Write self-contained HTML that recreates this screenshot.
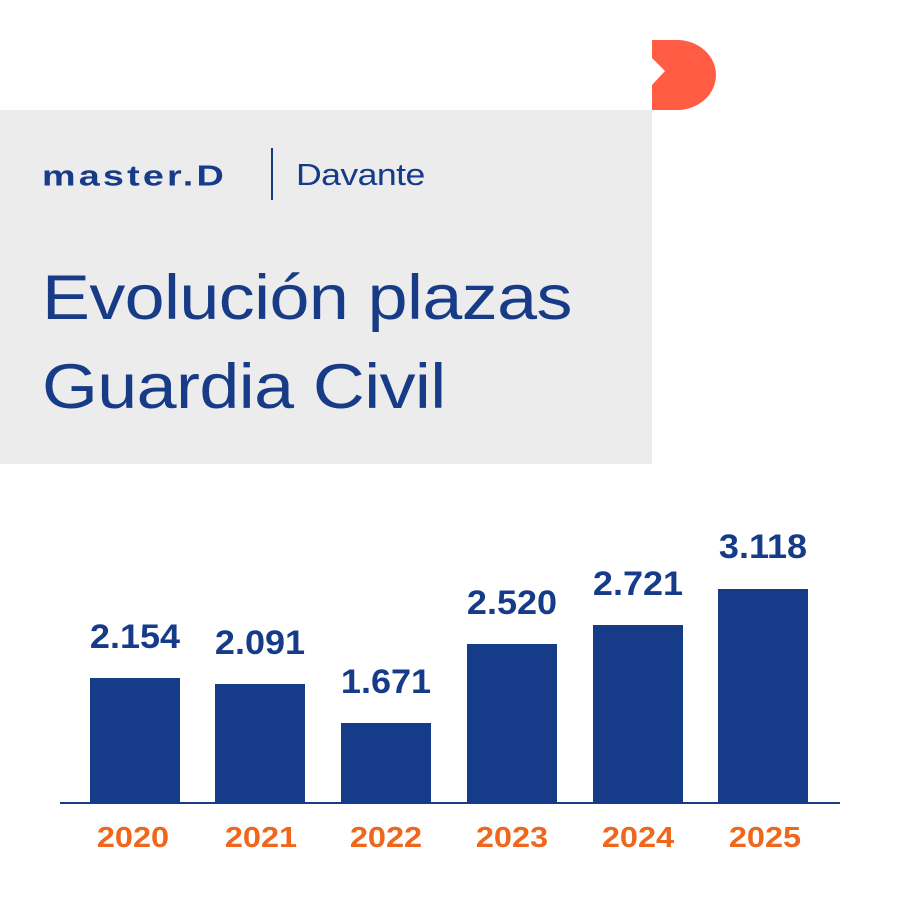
<!DOCTYPE html>
<html><head><meta charset="utf-8"><style>
body{margin:0;width:901px;height:901px;background:#fff;position:relative;overflow:hidden;font-family:"Liberation Sans",sans-serif}
.box{position:absolute;left:0;top:110px;width:652px;height:354px;background:#ececec}
.t{position:absolute;left:42px;color:#183b87;font-size:63px;white-space:nowrap;letter-spacing:-0.5px;transform:scaleX(1.14);transform-origin:0 0}
.bar{position:absolute;background:#163b88;width:90px}
.v{position:absolute;width:130px;text-align:center;color:#163b88;font-weight:bold;font-size:34px;transform:scaleX(1.06)}
.y{position:absolute;top:822px;width:130px;text-align:center;color:#f0661b;font-weight:bold;font-size:29px;transform:scaleX(1.12)}
</style></head><body>
<svg style="position:absolute;left:652px;top:40px" width="66" height="72"><path d="M0 0 H25 A39 35 0 0 1 25 70 H0 V45 L13 31 L0 18 Z" fill="#ff5c43"/></svg>
<div class="box"></div>
<div style="position:absolute;left:42px;top:155px;color:#163b88;font-weight:bold;font-size:36px;letter-spacing:3px;transform:scale(1.05,0.8);transform-origin:0 50%">master.D</div>
<div style="position:absolute;left:271px;top:148px;width:2px;height:52px;background:#163b88"></div>
<div style="position:absolute;left:296px;top:157px;color:#163b88;font-size:31px;letter-spacing:-0.5px;transform:scaleX(1.15);transform-origin:0 0">Davante</div>
<div class="t" style="top:262px">Evolución plazas</div>
<div class="t" style="top:351px">Guardia Civil</div>
<div class="bar" style="left:90px;top:678px;height:125px"></div>
<div class="bar" style="left:215px;top:684px;height:119px"></div>
<div class="bar" style="left:341px;top:723px;height:80px"></div>
<div class="bar" style="left:467px;top:644px;height:159px"></div>
<div class="bar" style="left:593px;top:625px;height:178px"></div>
<div class="bar" style="left:718px;top:589px;height:214px"></div>
<div style="position:absolute;left:60px;top:802px;width:780px;height:2px;background:#163b88"></div>
<div class="v" style="left:70px;top:618px">2.154</div>
<div class="v" style="left:195px;top:624px">2.091</div>
<div class="v" style="left:321px;top:663px">1.671</div>
<div class="v" style="left:447px;top:584px">2.520</div>
<div class="v" style="left:573px;top:565px">2.721</div>
<div class="v" style="left:698px;top:528px">3.118</div>
<div class="y" style="left:68px">2020</div>
<div class="y" style="left:196px">2021</div>
<div class="y" style="left:321px">2022</div>
<div class="y" style="left:447px">2023</div>
<div class="y" style="left:573px">2024</div>
<div class="y" style="left:700px">2025</div>
</body></html>
